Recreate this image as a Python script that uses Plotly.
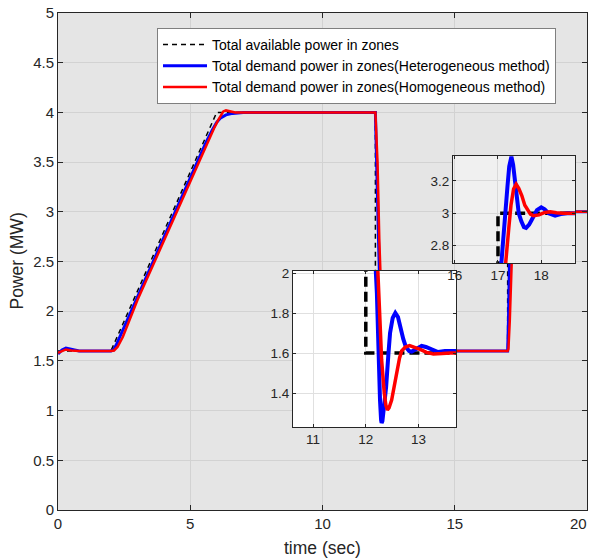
import plotly.graph_objects as go

# ---------------- data ----------------
t_avail = [0, 2, 6, 12, 12, 17, 17, 20]
p_avail = [1.6, 1.6, 4.0, 4.0, 1.6, 1.6, 3.0, 3.0]

t_het = [0, 0.15, 0.3, 0.5, 0.8, 2.0, 2.1, 2.2, 2.4, 3, 4, 5, 5.6, 5.85, 6.0, 6.15, 6.35, 6.6, 7,
         12.0, 12.06, 12.12, 12.18, 12.21, 12.24, 12.27, 12.29, 12.30, 12.315, 12.34, 12.385, 12.43,
         12.46, 12.51, 12.56, 12.61, 12.65, 12.71, 12.76, 12.82, 12.87, 12.96, 13.06, 13.14, 13.22,
         13.37, 13.5, 13.7, 14.0,
         17.0, 17.03, 17.06, 17.08, 17.13, 17.18, 17.22, 17.26, 17.31, 17.35, 17.42, 17.48, 17.54,
         17.6, 17.65, 17.72, 17.79, 17.9, 18.0, 18.08, 18.17, 18.32, 18.45, 18.6, 20]
p_het = [1.57, 1.61, 1.63, 1.615, 1.6, 1.6, 1.61, 1.66, 1.78, 2.15, 2.75, 3.35, 3.70, 3.83, 3.90, 3.945, 3.975, 3.99, 4.0,
         4.0, 3.3, 2.6, 2.06, 1.90, 1.565, 1.36, 1.265, 1.25, 1.26, 1.31, 1.43, 1.60,
         1.70, 1.775, 1.80, 1.78, 1.73, 1.67, 1.63, 1.61, 1.607, 1.62, 1.635, 1.63, 1.62,
         1.605, 1.61, 1.61, 1.6,
         1.6, 1.9, 2.35, 2.70, 2.90, 3.01, 3.17, 3.29, 3.35, 3.30, 3.11, 3.0, 2.95,
         2.915, 2.91, 2.93, 2.965, 3.02, 3.037, 3.025, 3.0, 2.985, 2.995, 3.0, 3.0]

t_hom = [0, 0.15, 0.3, 0.5, 0.8, 2.0, 2.12, 2.25, 2.45, 3, 4, 5, 5.6, 5.9, 6.05, 6.15, 6.25, 6.35, 6.5, 6.7,
         12.0, 12.08, 12.15, 12.22, 12.26, 12.30, 12.35, 12.38, 12.41, 12.44, 12.49, 12.54, 12.59,
         12.64, 12.68, 12.75, 12.83, 12.92, 13.03, 13.15, 13.28, 13.45, 13.6,
         17.0, 17.03, 17.08, 17.13, 17.18, 17.25, 17.30, 17.36, 17.42, 17.48, 17.55, 17.62, 17.68,
         17.75, 17.82, 17.95, 18.08, 18.21, 18.35, 18.5, 20]
p_hom = [1.58, 1.60, 1.615, 1.605, 1.6, 1.6, 1.605, 1.64, 1.74, 2.11, 2.71, 3.31, 3.67, 3.84, 3.92, 3.97, 4.01, 4.02, 4.01, 4.0,
         4.0, 3.5, 2.7, 2.06, 1.815, 1.565, 1.40, 1.34, 1.315, 1.325, 1.365, 1.44, 1.515,
         1.575, 1.61, 1.63, 1.637, 1.63, 1.618, 1.603, 1.595, 1.597, 1.6,
         1.6, 1.62, 1.9, 2.3, 2.70, 2.91, 3.05, 3.15, 3.18, 3.155, 3.11, 3.05, 3.02,
         2.995, 2.985, 2.99, 3.005, 3.01, 3.003, 3.0, 3.0]

names = ["Total available power in zones",
         "Total demand power in zones(Heterogeneous method)",
         "Total demand power in zones(Homogeneous method)"]

main_xticks = [0, 5, 10, 15, 20]
main_xlabels = ["0", "5", "10", "15", "20"]
in1_xticks = [11, 12, 13]
in1_yticks = [1.4, 1.6, 1.8, 2]
in2_xticks = [16, 17, 18]
in2_yticks = [2.8, 3, 3.2]

x_title = "time (sec)"
y_title = "Power (MW)"

# ---------------- layout constants ----------------
W, H = 589, 558
ML, MR, MT, MB = 58, 2, 13, 48
PW, PH = W - ML - MR, H - MT - MB

def dom_x(a, b):
    return [(a - ML) / PW, (b - ML) / PW]

def dom_y(top, bot):
    return [(H - MB - bot) / PH, (H - MB - top) / PH]

FONT = "Liberation Sans, Arial, sans-serif"
TXT = "#262626"
BLUE = "#0000ff"
RED = "#ff0000"

fig = go.Figure()

def add_set(xa, ya, lw_dash, dash, lw_b, lw_r, show):
    fig.add_trace(go.Scatter(x=t_avail, y=p_avail, mode="lines", name=names[0],
                             line=dict(color="black", width=lw_dash, dash=dash),
                             xaxis=xa, yaxis=ya, showlegend=show, hoverinfo="skip"))
    fig.add_trace(go.Scatter(x=t_het, y=p_het, mode="lines", name=names[1],
                             line=dict(color=BLUE, width=lw_b),
                             xaxis=xa, yaxis=ya, showlegend=show, hoverinfo="skip"))
    fig.add_trace(go.Scatter(x=t_hom, y=p_hom, mode="lines", name=names[2],
                             line=dict(color=RED, width=lw_r),
                             xaxis=xa, yaxis=ya, showlegend=show, hoverinfo="skip"))

add_set("x", "y", 1.5, "5px,4px", 3, 2.5, True)
add_set("x2", "y2", 3.5, "10px,5px", 4, 3.5, False)
add_set("x3", "y3", 3.5, "10px,5px", 4, 3.5, False)

in1_xr = [10.62, 13.71]
in1_yr = [1.23, 2.01]
in2_xr = [15.96, 18.78]
in2_yr = [2.693, 3.354]

ax_common = dict(showline=True, linecolor=TXT, linewidth=1, mirror="ticks",
                 ticks="inside", tickcolor=TXT, showgrid=True, zeroline=False,
                 automargin=False, ticklabeloverflow="allow",
                 tickfont=dict(family=FONT, size=15, color=TXT))
in_font = dict(family=FONT, size=13.5, color=TXT)

# last main x label drawn as an annotation at its tick, nudged left so it stays on the page
main_ticktext = main_xlabels[:-1] + [""]

fig.update_layout(
    width=W, height=H,
    margin=dict(l=ML, r=MR, t=MT, b=MB, pad=0, autoexpand=False),
    paper_bgcolor="white", plot_bgcolor="white",
    font=dict(family=FONT, color=TXT),
    xaxis=dict(ax_common, range=[0, 20], tickvals=main_xticks, ticktext=main_ticktext, ticklen=5,
               gridcolor="#d2d2d2", domain=[0, 1]),
    yaxis=dict(ax_common, range=[0, 5], dtick=0.5, ticklen=5, gridcolor="#d2d2d2", domain=[0, 1]),
    xaxis2=dict(ax_common, range=in1_xr, tickvals=in1_xticks, ticklen=3, gridcolor="#e0e0e0",
                domain=dom_x(293, 456), anchor="y2", tickfont=in_font),
    yaxis2=dict(ax_common, range=in1_yr, tickvals=in1_yticks, ticklen=3, gridcolor="#e0e0e0",
                domain=dom_y(271, 427), anchor="x2", tickfont=in_font),
    xaxis3=dict(ax_common, range=in2_xr, tickvals=in2_xticks, ticklen=3, gridcolor="#d8d8d8",
                domain=dom_x(453, 575), anchor="y3", tickfont=in_font),
    yaxis3=dict(ax_common, range=in2_yr, tickvals=in2_yticks, ticklen=3, gridcolor="#d8d8d8",
                domain=dom_y(156, 263), anchor="x3", tickfont=in_font),
    legend=dict(x=(157 - ML) / PW, y=(H - MB - 28) / PH, xanchor="left", yanchor="top",
                bgcolor="white", bordercolor="#7f7f7f", borderwidth=1, itemwidth=44,
                font=dict(family=FONT, size=14, color="black"), tracegroupgap=0),
    shapes=[
        dict(type="rect", xref="x", yref="y", x0=0, x1=20, y0=0, y1=5,
             fillcolor="#e5e5e5", line=dict(width=0), layer="below"),
        dict(type="rect", xref="x3", yref="y3", x0=in2_xr[0], x1=in2_xr[1], y0=in2_yr[0], y1=in2_yr[1],
             fillcolor="#f0f0f0", line=dict(width=0), layer="below"),
    ],
    annotations=[
        dict(text=x_title, xref="paper", yref="paper", x=0.5, y=(H - MB - 548) / PH,
             xanchor="center", yanchor="middle", showarrow=False,
             font=dict(family=FONT, size=17.5, color=TXT)),
        dict(text=y_title, xref="paper", yref="paper", x=(16 - ML) / PW, y=0.5,
             xanchor="center", yanchor="middle", showarrow=False, textangle=-90,
             font=dict(family=FONT, size=17.5, color=TXT)),
        dict(text=main_xlabels[-1], xref="x", yref="paper", x=main_xticks[-1], y=0,
             xanchor="right", yanchor="top", xshift=2, yshift=-3, showarrow=False,
             font=dict(family=FONT, size=15, color=TXT)),
    ],
)

fig.write_html("out.html", config={"displayModeBar": False},
               post_script="document.body.style.margin='0px';")
